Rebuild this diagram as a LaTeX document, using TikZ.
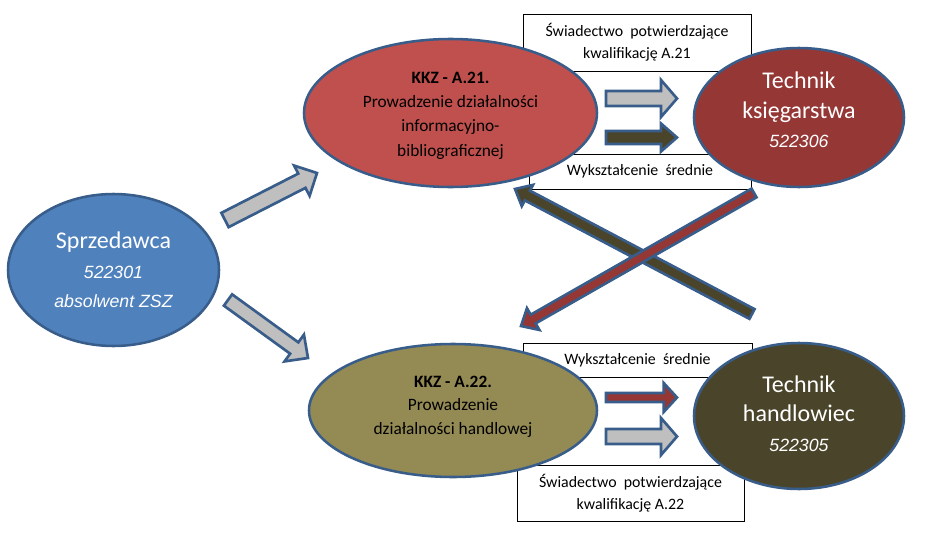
\documentclass[tikz,border=0pt]{standalone}
\usepackage{fontspec}
\setmainfont{Carlito}
\newfontfamily\numfont{Liberation Sans}
\usetikzlibrary{shapes.geometric,calc}
\definecolor{bordc}{HTML}{385D8A}
\definecolor{cblue}{HTML}{4F81BD}
\definecolor{cred}{HTML}{C0504D}
\definecolor{cdred}{HTML}{953735}
\definecolor{colive}{HTML}{948A54}
\definecolor{cdolive}{HTML}{4A452A}
\definecolor{cgray}{HTML}{BFBFBF}
\newcommand\fBig{\fontsize{18}{22.5}\selectfont}
\newcommand\fNum{\numfont\itshape}
\newcommand\blockarrow[6]{%
  \path ($(#2)!#5!(#1)$) coordinate (hb);
  \draw[#6] ($(#1)!#3!90:(#2)$) -- ($(hb)!#3!90:(#2)$) -- ($(hb)!#4!90:(#2)$) -- (#2)
    -- ($(hb)!#4!-90:(#2)$) -- ($(hb)!#3!-90:(#2)$) -- ($(#1)!#3!-90:(#2)$) -- cycle;
}
\tikzset{
  ell/.style={ellipse, draw=bordc, line width=1.9pt, inner sep=0pt},
  infobox/.style={rectangle, draw=black, line width=0.75pt, fill=white, inner sep=0pt, align=center,
    font=\fontsize{11.9}{16.5}\selectfont},
  txt/.style={align=center, inner sep=0pt},
  whitetxt/.style={txt, text=white, font=\fontsize{13.3}{22.3}\selectfont},
  kkztxt/.style={txt, text=black, font=\fontsize{13}{18.2}\selectfont},
  arr/.style={draw=bordc, line width=2pt},
}
\begin{document}
\begin{tikzpicture}[x=0.75pt,y=-0.75pt]
\useasboundingbox (0,0) rectangle (925,539);
% info boxes
\node[infobox, minimum width=171pt, minimum height=42.75pt] (b1) at (637,42.5)
  {Świadectwo\ \ potwierdzające\\kwalifikację A.21};
\node[infobox, minimum width=166.5pt, minimum height=26.25pt] (b2) at (640,171.5)
  {Wykształcenie\ \ średnie};
\node[infobox, minimum width=171.75pt, minimum height=25.5pt] (b3) at (637.5,360)
  {Wykształcenie\ \ średnie};
\node[infobox, minimum width=170.25pt, minimum height=42pt] (b4) at (630.5,493)
  {Świadectwo\ \ potwierdzające\\kwalifikację A.22};
% ellipses
\node[ell, fill=cblue, minimum width=158.25pt, minimum height=114pt] (spr) at (113.5,270) {};
\node[ell, fill=cred, minimum width=219.75pt, minimum height=111pt] (a21) at (450.5,113) {};
\node[ell, fill=cdred, minimum width=157.5pt, minimum height=104.25pt] (tk) at (799,117.5) {};
\node[ell, fill=colive, minimum width=216pt, minimum height=99.75pt] (a22) at (453,410.5) {};
\node[ell, fill=cdolive, minimum width=157.5pt, minimum height=109.5pt] (th) at (799,416) {};
% texts
\node[whitetxt] (sprT) at ($(spr)+(0,0)$)
  {{\fBig Sprzedawca}\\{\fNum 522301}\\{\fNum absolwent ZSZ}};
\node[kkztxt] (a21T) at ($(a21)+(0,2.5)$)
  {\textbf{KKZ - A.21.}\\Prowadzenie działalności\\informacyjno-\\bibliograficznej};
\node[whitetxt] (tkT) at ($(tk)+(0,-7.5)$)
  {{\fBig Technik}\\{\fBig księgarstwa}\\{\fNum 522306}};
\node[kkztxt, font=\fontsize{13}{17.6}\selectfont] (a22T) at ($(a22)+(0,-4)$)
  {\textbf{KKZ - A.22.}\\Prowadzenie\\działalności handlowej};
\node[whitetxt] (thT) at ($(th)+(0,-2.5)$)
  {{\fBig Technik}\\{\fBig handlowiec}\\{\fNum 522305}};
% arrow end points
\coordinate (g1s) at (225,220);   \coordinate (g1e) at (317,173);
\coordinate (g2s) at (228,300);   \coordinate (g2e) at (308,358);
\coordinate (t1s) at (606,98.5);  \coordinate (t1e) at (677,98.5);
\coordinate (t2s) at (606,137.5); \coordinate (t2e) at (677,137.5);
\coordinate (u1s) at (606,397.5); \coordinate (u1e) at (677,397.5);
\coordinate (u2s) at (606,436.5); \coordinate (u2e) at (677,436.5);
\coordinate (ds) at (752,314);    \coordinate (de) at (515,189);
\coordinate (rs) at (754,193);    \coordinate (re) at (521,326);
% arrows
\blockarrow{g1s}{g1e}{6pt}{12.75pt}{12.75pt}{arr, fill=cgray}
\blockarrow{g2s}{g2e}{5.25pt}{12.4pt}{12.75pt}{arr, fill=cgray}
\blockarrow{t1s}{t1e}{5.6pt}{13.9pt}{12pt}{arr, fill=cgray}
\blockarrow{t2s}{t2e}{4.9pt}{10.5pt}{12pt}{arr, fill=cdolive}
\blockarrow{u1s}{u1e}{3.4pt}{10.9pt}{10pt}{arr, fill=cdred}
\blockarrow{u2s}{u2e}{5.6pt}{13.9pt}{12pt}{arr, fill=cgray}
\blockarrow{ds}{de}{4.1pt}{9pt}{10.5pt}{arr, fill=cdolive}
\blockarrow{rs}{re}{3.75pt}{9.4pt}{10.5pt}{arr, fill=cdred}
\end{tikzpicture}
\end{document}
